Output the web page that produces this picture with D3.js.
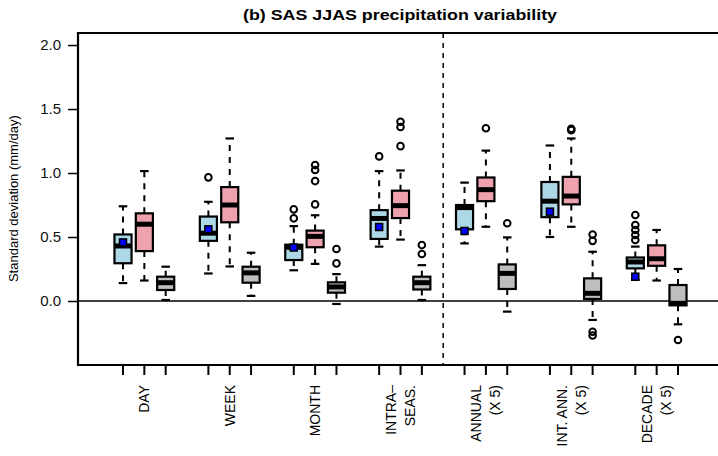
<!DOCTYPE html>
<html>
<head>
<meta charset="utf-8">
<script src="https://cdn.jsdelivr.net/npm/d3@7"></script>
<style>
  body { margin: 0; background: #fff; }
  svg { display: block; font-family: "Liberation Sans", Arial, Helvetica, sans-serif; }
</style>
</head>
<body>
<svg width="718" height="456"></svg>
<script>
// group labels (one or two lines each)
const groups = [["DAY"], ["WEEK"], ["MONTH"], ["INTRA\u2013", "SEAS."],
  ["ANNUAL", "(X 5)"], ["INT. ANN.", "(X 5)"], ["DECADE", "(X 5)"]];

// five-number summaries: [lower whisker, q1, median, q3, upper whisker]
const blueStats = [
  [0.14, 0.295, 0.43, 0.52, 0.74],
  [0.215, 0.47, 0.53, 0.66, 0.775],
  [0.24, 0.32, 0.42, 0.44, 0.585],
  [0.425, 0.485, 0.645, 0.71, 1.015],
  [0.45, 0.56, 0.73, 0.75, 0.925],
  [0.50, 0.655, 0.78, 0.93, 1.215],
  [0.165, 0.255, 0.305, 0.34, 0.425]
];
const pinkStats = [
  [0.16, 0.39, 0.60, 0.685, 1.015],
  [0.27, 0.615, 0.75, 0.89, 1.27],
  [0.29, 0.42, 0.505, 0.55, 0.67],
  [0.48, 0.648, 0.745, 0.862, 1.02],
  [0.58, 0.78, 0.87, 0.965, 1.175],
  [0.58, 0.755, 0.82, 0.97, 1.27],
  [0.16, 0.275, 0.33, 0.435, 0.555]
];
const grayStats = [
  [0.008, 0.086, 0.143, 0.19, 0.268],
  [0.04, 0.143, 0.22, 0.268, 0.377],
  [-0.023, 0.065, 0.11, 0.146, 0.21],
  [0.008, 0.09, 0.143, 0.19, 0.28],
  [-0.083, 0.094, 0.216, 0.286, 0.497],
  [-0.148, 0.016, 0.06, 0.177, 0.385],
  [-0.182, -0.034, -0.018, 0.125, 0.25]
];

// outliers
const blueOut = [[], [0.966], [0.716, 0.646], [1.13], [], [], [0.672, 0.594, 0.555, 0.516, 0.477]];
const pinkOut = [[], [], [1.062, 1.023, 0.937, 0.755], [1.40, 1.36, 1.21], [1.35], [1.345, 1.335], []];
const grayOut = [[], [], [0.406, 0.294], [0.437, 0.367], [0.607], [0.52, 0.47, -0.24, -0.27], [-0.305]];

// observed value (blue squares)
const obsVals = [0.458, 0.56, 0.418, 0.578, 0.547, 0.698, 0.19];

const yTicks = [0, 0.5, 1, 1.5, 2];

const svg = d3.select("svg");
const plotL = 78, plotT = 33, plotB = 365, plotR = 718;

const x = d3.scaleLinear().domain([1, 27]).range([123, 678]);
const y = d3.scaleLinear().domain([-0.5, 2.094]).range([plotB, plotT]);
const halfW = (x(1.4) - x(1));
const capW = (x(1.2) - x(1));

// title
svg.append("text")
  .attr("x", 400).attr("y", 20)
  .attr("text-anchor", "middle")
  .attr("textLength", 314).attr("lengthAdjust", "spacingAndGlyphs")
  .style("font-weight", "bold").style("font-size", "15.5px")
  .text("(b) SAS JJAS precipitation variability");

// y axis label
svg.append("text")
  .attr("transform", "translate(18," + y(0.8) + ") rotate(-90)")
  .attr("text-anchor", "middle")
  .style("font-size", "13px")
  .text("Standard deviation (mm/day)");

// y axis
const yAxis = svg.append("g")
  .attr("transform", "translate(" + plotL + ",0)")
  .call(d3.axisLeft(y).tickValues(yTicks).tickFormat(d3.format(".1f")).tickSize(10).tickPadding(7));
yAxis.select(".domain").remove();
yAxis.selectAll("line").attr("stroke", "#000").attr("stroke-width", 1.5);
yAxis.selectAll("text").style("font-size", "15px").attr("fill", "#111")
  .style("font-family", "'Liberation Sans', Arial, sans-serif");

// zero line
svg.append("line")
  .attr("x1", plotL).attr("x2", plotR)
  .attr("y1", y(0)).attr("y2", y(0))
  .attr("stroke", "#000").attr("stroke-width", 1.3);

// separator
svg.append("line")
  .attr("x1", x(16)).attr("x2", x(16))
  .attr("y1", plotT).attr("y2", plotB)
  .attr("stroke", "#000").attr("stroke-width", 1.5)
  .attr("stroke-dasharray", "5,5");

// frame: left, top, bottom
svg.append("path")
  .attr("d", "M" + plotR + "," + plotT + "H" + plotL + "V" + plotB + "H" + plotR)
  .attr("fill", "none").attr("stroke", "#000").attr("stroke-width", 2.2);

// collect boxes
const series = [
  { stats: blueStats, out: blueOut, fill: "#add8e6", off: 0 },
  { stats: pinkStats, out: pinkOut, fill: "#eea2ad", off: 1 },
  { stats: grayStats, out: grayOut, fill: "#bebebe", off: 2 }
];
const boxes = [];
series.forEach(s => s.stats.forEach((st, i) => {
  boxes.push({ pos: 1 + i * 4 + s.off, st: st, out: s.out[i], fill: s.fill });
}));

// x ticks under each box
svg.append("g").selectAll("line")
  .data(boxes).enter().append("line")
  .attr("x1", d => x(d.pos)).attr("x2", d => x(d.pos))
  .attr("y1", plotB).attr("y2", plotB + 10)
  .attr("stroke", "#000").attr("stroke-width", 2);

// group labels, rotated
const labG = svg.append("g").selectAll("g")
  .data(groups).enter().append("g");
labG.each(function(lines, i) {
  const cx = x(2 + i * 4);
  const n = lines.length;
  lines.forEach((t, k) => {
    const lx = cx + (k - (n - 1) / 2) * 19;
    d3.select(this).append("text")
      .attr("transform", "translate(" + lx + ",385) rotate(-90)")
      .attr("text-anchor", "end")
      .attr("dy", "0.36em")
      .style("font-size", "14px")
      .text(t);
  });
});

const bx = svg.append("g").selectAll("g")
  .data(boxes).enter().append("g");

// whiskers
bx.append("line")
  .attr("x1", d => x(d.pos)).attr("x2", d => x(d.pos))
  .attr("y1", d => y(d.st[3])).attr("y2", d => y(d.st[4]))
  .attr("stroke", "#000").attr("stroke-width", 2).attr("stroke-dasharray", "6,6");
bx.append("line")
  .attr("x1", d => x(d.pos)).attr("x2", d => x(d.pos))
  .attr("y1", d => y(d.st[1])).attr("y2", d => y(d.st[0]))
  .attr("stroke", "#000").attr("stroke-width", 2).attr("stroke-dasharray", "6,6");
// caps
[0, 4].forEach(k => {
  bx.append("line")
    .attr("x1", d => x(d.pos) - capW).attr("x2", d => x(d.pos) + capW)
    .attr("y1", d => y(d.st[k])).attr("y2", d => y(d.st[k]))
    .attr("stroke", "#000").attr("stroke-width", 2.2);
});
// box
bx.append("rect")
  .attr("x", d => x(d.pos) - halfW)
  .attr("width", 2 * halfW)
  .attr("y", d => y(d.st[3]))
  .attr("height", d => y(d.st[1]) - y(d.st[3]))
  .attr("fill", d => d.fill)
  .attr("stroke", "#000").attr("stroke-width", 2.2);
// median
bx.append("line")
  .attr("x1", d => x(d.pos) - halfW).attr("x2", d => x(d.pos) + halfW)
  .attr("y1", d => y(d.st[2])).attr("y2", d => y(d.st[2]))
  .attr("stroke", "#000").attr("stroke-width", 5);
// outliers
bx.selectAll("circle")
  .data(d => d.out.map(v => ({ pos: d.pos, v: v })))
  .enter().append("circle")
  .attr("cx", d => x(d.pos)).attr("cy", d => y(d.v))
  .attr("r", 3.3)
  .attr("fill", "none").attr("stroke", "#000").attr("stroke-width", 2);

// observed squares on blue boxes
svg.append("g").selectAll("rect")
  .data(obsVals).enter().append("rect")
  .attr("x", (d, i) => x(1 + i * 4) - 3.5)
  .attr("y", d => y(d) - 3.5)
  .attr("width", 7).attr("height", 7)
  .attr("fill", "#0000ff")
  .attr("stroke", "#000").attr("stroke-width", 1.5);
</script>
</body>
</html>
